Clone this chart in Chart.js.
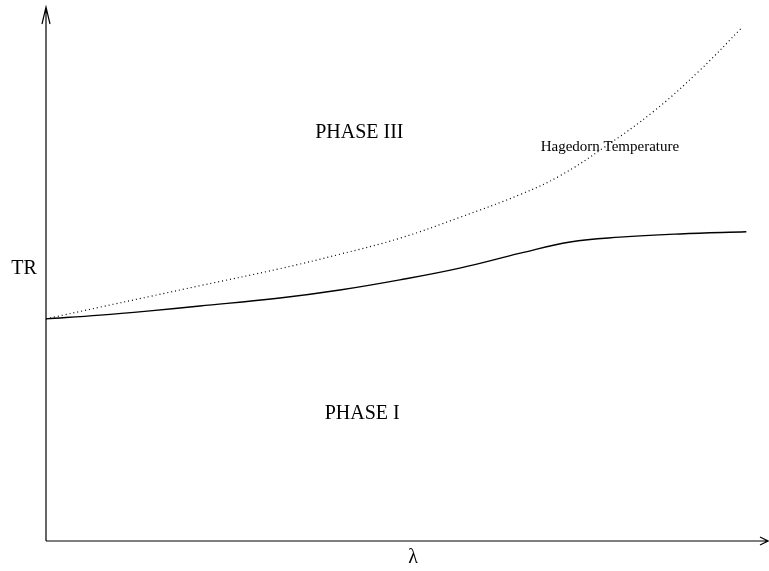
<!DOCTYPE html>
<html>
<head>
<meta charset="utf-8">
<script src="https://cdn.jsdelivr.net/npm/chart.js@4/dist/chart.umd.min.js"></script>
<style>
  body { margin: 0; background: #fff; }
</style>
</head>
<body>
<canvas id="myChart" width="769" height="571"></canvas>
<script>
// lambda (0..100 across the x axis), TR (0..100 up the y axis)
const transitionX = [0, 7.5, 14.4, 21.3, 32.4, 40.7, 49.0, 57.3, 65.7, 72.6, 79.5, 87.8, 97.0];
const transitionY = [41.6, 42.3, 43.1, 44.0, 45.5, 47.0, 48.9, 51.1, 53.9, 56.0, 56.9, 57.5, 57.9];

const hagedornX = [0, 7.5, 14.4, 21.3, 32.4, 40.7, 49.0, 57.3, 65.7, 71.2, 77.4, 84.2, 90.6, 96.5];
const hagedornY = [41.6, 43.8, 45.8, 47.8, 51.0, 53.7, 56.7, 60.6, 64.9, 68.4, 73.8, 80.5, 88.2, 96.3];

const regionLabels = [
  { text: "PHASE III", x: 43.4, y: 76.4, size: 20 },
  { text: "PHASE I", x: 43.8, y: 23.8, size: 20 },
  { text: "Hagedorn Temperature", x: 78.1, y: 73.8, size: 15 },
];

function toPoints(xs, ys) {
  return xs.map((x, i) => ({ x: x, y: ys[i] }));
}

const axesPlugin = {
  id: "axesPlugin",
  afterDraw(chart) {
    const ctx = chart.ctx;
    const a = chart.chartArea;
    ctx.save();
    ctx.strokeStyle = "#000";
    ctx.lineWidth = 1.2;
    ctx.beginPath();
    // y axis with open arrow
    ctx.moveTo(a.left, a.bottom);
    ctx.lineTo(a.left, a.top);
    ctx.moveTo(a.left - 4, a.top + 17);
    ctx.lineTo(a.left, a.top);
    ctx.lineTo(a.left + 4, a.top + 17);
    // x axis with open arrow
    ctx.moveTo(a.left, a.bottom);
    ctx.lineTo(a.right, a.bottom);
    ctx.moveTo(a.right - 8, a.bottom - 4);
    ctx.lineTo(a.right, a.bottom);
    ctx.lineTo(a.right - 8, a.bottom + 4);
    ctx.stroke();

    ctx.fillStyle = "#000";
    ctx.textAlign = "center";
    ctx.textBaseline = "middle";
    const xs = chart.scales.x;
    const ys = chart.scales.y;
    regionLabels.forEach((l) => {
      ctx.font = l.size + "px 'Liberation Serif'";
      ctx.fillText(l.text, xs.getPixelForValue(l.x), ys.getPixelForValue(l.y));
    });
    ctx.font = "20px 'Liberation Serif'";
    ctx.fillText("TR", a.left - 22, 269);
    ctx.fillText("λ", 413, a.bottom + 17);
    ctx.restore();
  },
};

const myChart = new Chart(document.getElementById("myChart"), {
  type: "line",
  data: {
    datasets: [
      {
        label: "Hagedorn Temperature",
        data: toPoints(hagedornX, hagedornY),
        borderColor: "#000",
        borderWidth: 1.2,
        borderDash: [1, 3],
        pointRadius: 0,
        fill: false,
        tension: 0.4,
      },
      {
        label: "transition",
        data: toPoints(transitionX, transitionY),
        borderColor: "#000",
        borderWidth: 1.4,
        pointRadius: 0,
        fill: false,
        tension: 0.4,
      },
    ],
  },
  options: {
    responsive: false,
    animation: false,
    layout: { padding: { left: 46, right: 1, top: 7, bottom: 30 } },
    plugins: { legend: { display: false }, tooltip: { enabled: false } },
    scales: {
      x: { type: "linear", min: 0, max: 100, display: false },
      y: { min: 0, max: 100, display: false },
    },
  },
  plugins: [axesPlugin],
});
</script>
</body>
</html>
